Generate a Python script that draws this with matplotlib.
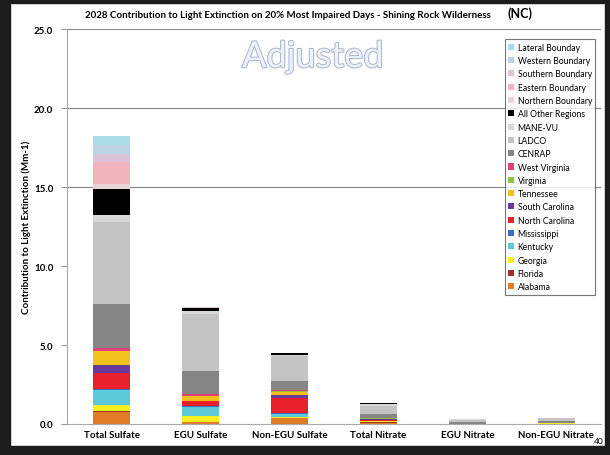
import numpy as np
import matplotlib.pyplot as plt
import matplotlib.patheffects as pe
from matplotlib.patches import Rectangle

plt.rcParams['font.family'] = ['Lato', 'DejaVu Sans']

categories = ['Total Sulfate', 'EGU Sulfate', 'Non-EGU Sulfate',
              'Total Nitrate', 'EGU Nitrate', 'Non-EGU Nitrate']

# stacking order, bottom to top
sources = ['Alabama', 'Florida', 'Georgia', 'Kentucky', 'Mississippi',
           'North Carolina', 'South Carolina', 'Tennessee', 'Virginia',
           'West Virginia', 'CENRAP', 'LADCO', 'MANE-VU', 'All Other Regions',
           'Northern Boundary', 'Eastern Boundary', 'Southern Boundary',
           'Western Boundary', 'Lateral Bounday']

colors = ['#e07b28', '#a0302a', '#f5f020', '#5cc8d8', '#3a6cc0',
          '#e8202a', '#6a3a9a', '#f2c21c', '#90c040',
          '#e0407a', '#858585', '#c4c4c4', '#d8d8d8', '#000000',
          '#e6d4d8', '#f2b4bc', '#dcc4d8', '#bcd4e4', '#a8dce6']

# values per source for each category (Mm-1)
alabama      = [0.75, 0.10, 0.38, 0.08, 0.01, 0.02]
florida      = [0.05, 0.02, 0.03, 0.06, 0.00, 0.01]
georgia      = [0.40, 0.38, 0.05, 0.04, 0.00, 0.01]
kentucky     = [0.95, 0.57, 0.18, 0.02, 0.00, 0.00]
mississippi  = [0.05, 0.06, 0.03, 0.01, 0.00, 0.00]
n_carolina   = [1.05, 0.30, 0.95, 0.06, 0.01, 0.02]
s_carolina   = [0.50, 0.05, 0.20, 0.02, 0.00, 0.00]
tennessee    = [0.85, 0.28, 0.20, 0.05, 0.01, 0.01]
virginia     = [0.05, 0.02, 0.10, 0.02, 0.00, 0.00]
w_virginia   = [0.15, 0.10, 0.05, 0.02, 0.00, 0.00]
cenrap       = [2.80, 1.47, 0.55, 0.25, 0.08, 0.10]
ladco        = [5.20, 3.60, 1.60, 0.52, 0.16, 0.18]
manevu       = [0.40, 0.20, 0.05, 0.12, 0.04, 0.04]
other_reg    = [1.65, 0.20, 0.12, 0.09, 0.01, 0.01]
northern_bc  = [0.35, 0.01, 0.01, 0.00, 0.00, 0.00]
eastern_bc   = [1.40, 0.01, 0.01, 0.00, 0.00, 0.00]
southern_bc  = [0.50, 0.01, 0.00, 0.00, 0.00, 0.00]
western_bc   = [0.55, 0.01, 0.00, 0.00, 0.00, 0.00]
lateral_bc   = [0.60, 0.00, 0.00, 0.00, 0.00, 0.00]

values = [alabama, florida, georgia, kentucky, mississippi, n_carolina,
          s_carolina, tennessee, virginia, w_virginia, cenrap, ladco, manevu,
          other_reg, northern_bc, eastern_bc, southern_bc, western_bc, lateral_bc]

fig = plt.figure(figsize=(6.1, 4.56), dpi=100)
ax = fig.add_axes([0.110, 0.068, 0.875, 0.866])

x = np.arange(len(categories))
bottom = np.zeros(len(categories))
handles = []
for name, col, v in zip(sources, colors, values):
    v = np.array(v)
    b = ax.bar(x, v, 0.42, bottom=bottom, color=col, label=name, zorder=2)
    handles.append(b)
    bottom = bottom + v

ax.set_xlim(-0.5, len(categories) - 0.5)
ax.set_ylim(0, 25)
ax.set_yticks(np.arange(0, 26, 5))
ax.set_yticklabels(['%.1f' % t for t in np.arange(0, 26, 5)],
                   fontsize=7, fontweight='bold')
ax.set_xticks(x)
ax.set_xticklabels(categories, fontsize=7, fontweight='bold')
ax.tick_params(axis='x', length=0, pad=4)
ax.tick_params(axis='y', length=4, color='#999999', pad=6)

for yv in [15, 20, 25]:
    ax.axhline(yv, color='#888888', lw=0.8, zorder=1)

for s in ['top', 'right']:
    ax.spines[s].set_visible(False)
ax.spines['left'].set_color('#aaaaaa')
ax.spines['bottom'].set_color('#aaaaaa')

ax.set_ylabel('Contribution to Light Extinction (Mm-1)', fontsize=7,
              fontweight='bold')
ax.yaxis.set_label_coords(-0.068, 0.5)

leg = ax.legend(handles[::-1], sources[::-1], loc='upper right',
                bbox_to_anchor=(0.998, 0.985), fontsize=6.2,
                frameon=True, fancybox=False, edgecolor='#555555',
                handlelength=0.7, handleheight=0.7, handletextpad=0.4,
                labelspacing=0.5, borderpad=0.4)
leg.get_frame().set_linewidth(0.8)

fig.text(0.472, 0.967, '2028 Contribution to Light Extinction on 20% Most Impaired Days - Shining Rock Wilderness',
         ha='center', va='center', fontsize=7.0, fontweight='bold')
fig.text(0.853, 0.969, '(NC)', ha='center', va='center', fontsize=9,
         fontweight='bold')

ax.text(0.46, 0.93, 'Adjusted', transform=ax.transAxes, ha='center',
        va='center', fontsize=26, color='#eef2f8',
        path_effects=[pe.withStroke(linewidth=1.5, foreground='#a8b8d0')])

# slide frame
fc = '#1c1c1c'
fig.patches.append(Rectangle((0, 0), 0.017, 1, transform=fig.transFigure, color=fc, zorder=0))
fig.patches.append(Rectangle((0, 0.992), 1, 0.008, transform=fig.transFigure, color=fc, zorder=0))
fig.patches.append(Rectangle((0.992, 0), 0.008, 1, transform=fig.transFigure, color=fc, zorder=0))
fig.patches.append(Rectangle((0, 0), 1, 0.02, transform=fig.transFigure, color=fc, zorder=0))
fig.text(0.981, 0.032, '40', ha='center', va='center', fontsize=6)

fig.savefig('out.png', dpi=100)
